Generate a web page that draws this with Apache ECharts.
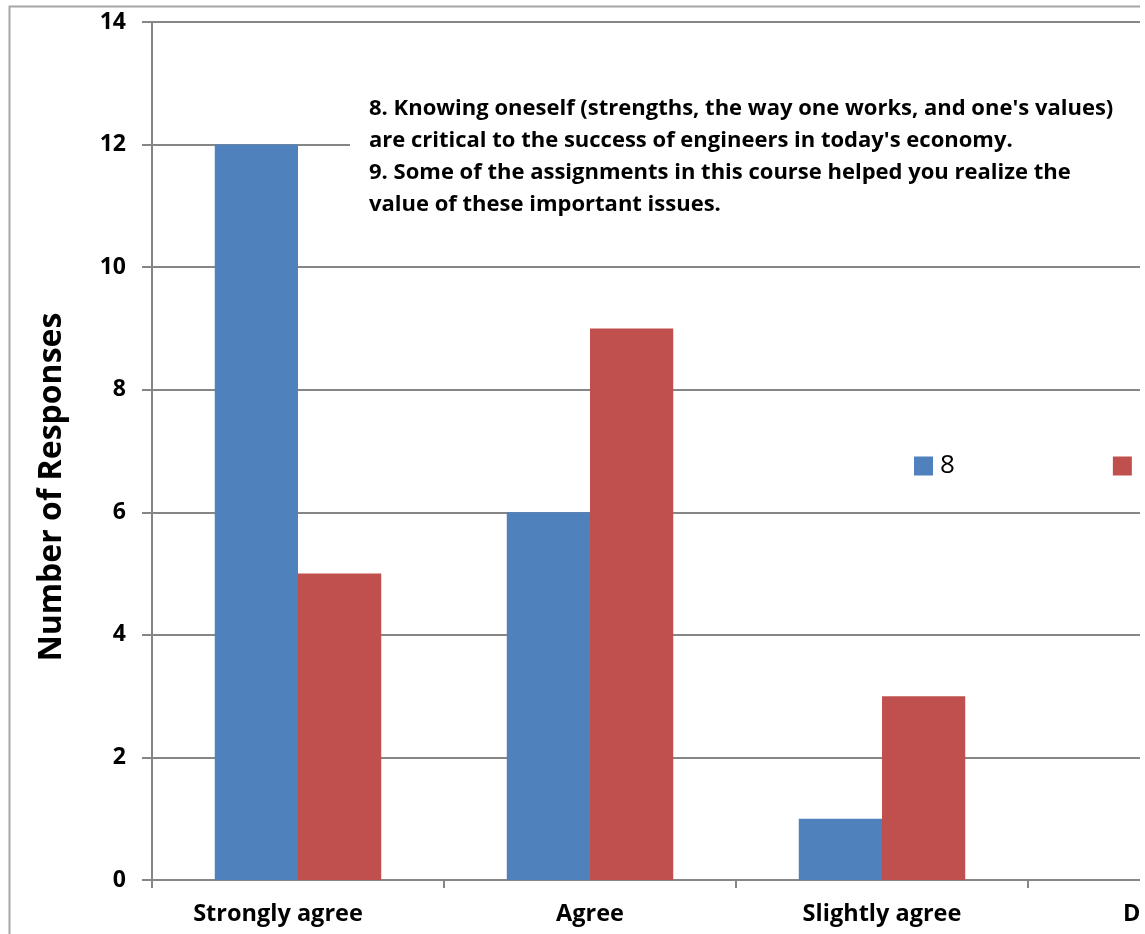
<!DOCTYPE html>
<html><head><meta charset="utf-8">
<script src="https://cdn.jsdelivr.net/npm/echarts@6/dist/echarts.min.js"></script>
<style>html,body{margin:0;padding:0;background:#fff}#c{width:1145px;height:934px}</style>
</head><body><div id="c"></div>
<script>
const categories = ['Strongly agree', 'Agree', 'Slightly agree', 'Disagree'];
const seriesNames = ['8', '9'];
const values8 = [12, 6, 1, 0];
const values9 = [5, 9, 3, 0];
const noteLines = [
  "8. Knowing oneself (strengths, the way one works, and one's values)",
  "are critical to the success of engineers in today's economy.",
  "9. Some of the assignments in this course helped you realize the",
  "value of these important issues."
];
const yTitle = 'Number of Responses';

const FONT = '"Open Sans", "Noto Sans", sans-serif';
const catData = categories.map((c, i) => i === 0 ? {value: c, textStyle: {padding: [0, 40, 0, 0]}} : c);
const chart = echarts.init(document.getElementById('c'), null, {renderer: 'canvas'});
chart.setOption({
  animation: false,
  backgroundColor: '#fff',
  color: ['#4F81BD', '#C0504D'],
  grid: {left: 152, top: 22, bottom: 54, width: 1168, containLabel: false, outerBoundsMode: 'none'},
  legend: {
    data: seriesNames, orient: 'horizontal', left: 914, top: 453, width: 600, padding: 0,
    itemWidth: 19, itemHeight: 19, itemGap: 158,
    icon: 'rect', textStyle: {fontFamily: FONT, fontSize: 26, color: '#000', padding: [0,0,0,2]}
  },
  xAxis: {
    type: 'category', data: catData,
    axisLine: {lineStyle: {color: '#868686', width: 2}},
    axisTick: {show: true, length: 8, lineStyle: {color: '#868686', width: 2}},
    axisLabel: {fontFamily: FONT, fontWeight: 'bold', fontSize: 23.5, color: '#000', margin: 22, interval: 0}
  },
  yAxis: {
    type: 'value', min: 0, max: 14, interval: 2,
    name: yTitle, nameLocation: 'middle', nameGap: 84, nameRotate: 90,
    nameTextStyle: {fontFamily: FONT, fontWeight: 'bold', fontSize: 32, color: '#000', padding: [0, 72, 0, 0]},
    axisLine: {show: true, lineStyle: {color: '#868686', width: 2}},
    axisTick: {show: true, inside: false, length: 10, lineStyle: {color: '#868686', width: 2}},
    axisLabel: {fontFamily: FONT, fontWeight: 'bold', fontSize: 23, color: '#000', margin: 26},
    splitLine: {show: true, lineStyle: {color: '#868686', width: 2}}
  },
  series: [
    {name: seriesNames[0], type: 'bar', data: values8, barGap: '0%', barCategoryGap: '43%'},
    {name: seriesNames[1], type: 'bar', data: values9, barGap: '0%', barCategoryGap: '43%'}
  ],
  graphic: [
    {type: 'rect', left: 7, top: 4, shape: {width: 1300, height: 1100}, style: {fill: 'none', stroke: '#a6a6a6', lineWidth: 2}, z: -1},
    {type: 'rect', left: 350, top: 80, shape: {width: 820, height: 150}, style: {fill: '#fff'}, z: 50},
    {type: 'text', left: 369, top: 93, style: {text: noteLines.join('\n'), fontFamily: FONT, fontWeight: 'bold', fontSize: 22, lineHeight: 32, fill: '#000'}, z: 51},
    {type: 'rect', left: 1140, top: 0, shape: {width: 10, height: 934}, style: {fill: '#fff'}, z: 1000}
  ]
});
</script></body></html>
